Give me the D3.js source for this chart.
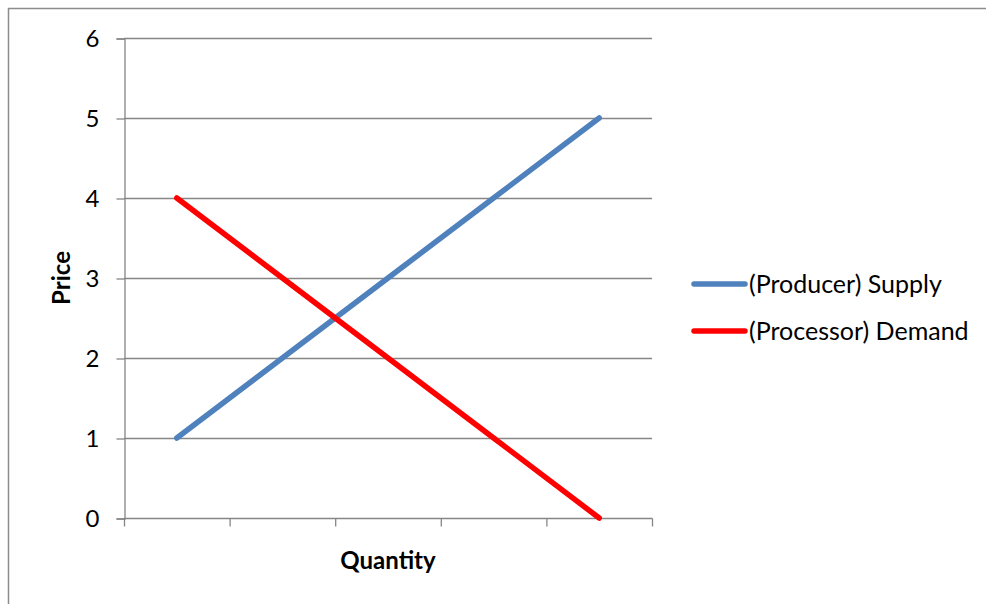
<!DOCTYPE html>
<html>
<head>
<meta charset="utf-8">
<script src="https://cdn.jsdelivr.net/npm/d3@7"></script>
<style>
  html, body { margin: 0; padding: 0; background: #fff; }
  svg { display: block; }
  text { font-family: Lato, "Open Sans", sans-serif; fill: #000; }
</style>
</head>
<body>
<svg id="chart" width="986" height="604"></svg>
<script>
// Quantity categories (unlabelled on the axis)
const categories = ["q1", "q2", "q3", "q4", "q5"];
const supplyValues = [1, 2, 3, 4, 5];
const demandValues = [4, 3, 2, 1, 0];
const priceTicks = [0, 1, 2, 3, 4, 5, 6];

const series = [
  { name: "(Producer) Supply", values: supplyValues, color: "#4F81BD" },
  { name: "(Processor) Demand", values: demandValues, color: "#FF0000" }
];

const svg = d3.select("#chart");
const plot = { left: 124, right: 652, top: 38, bottom: 518 };
const fontSize = "24px";

// outer chart frame
svg.append("rect")
  .attr("x", 8.5).attr("y", 8.5)
  .attr("width", 1000).attr("height", 700)
  .attr("fill", "#fff")
  .attr("stroke", "#8c8c8c").attr("stroke-width", 1.5);

const x = d3.scaleBand().domain(categories).range([plot.left, plot.right]).padding(0);
const y = d3.scaleLinear().domain([0, 6]).range([plot.bottom, plot.top]);

// horizontal gridlines
svg.append("g")
  .selectAll("line")
  .data(priceTicks.filter(d => d > 0))
  .join("line")
  .attr("x1", plot.left).attr("x2", plot.right)
  .attr("y1", d => y(d) + 0.5).attr("y2", d => y(d) + 0.5)
  .attr("stroke", "#868686").attr("stroke-width", 1.3);

// y axis
const yAxis = svg.append("g")
  .attr("transform", `translate(${plot.left + 0.5},0.5)`)
  .call(d3.axisLeft(y).tickValues(priceTicks).tickFormat(d3.format("d")).tickSize(8).tickPadding(17));
yAxis.select(".domain").attr("stroke", "#868686").attr("stroke-width", 1.3);
yAxis.selectAll(".tick line").attr("stroke", "#868686").attr("stroke-width", 1.3);
yAxis.selectAll(".tick text")
  .style("font-family", "Lato, sans-serif").style("font-size", fontSize).attr("fill", "#000");
yAxis.attr("font-family", null).attr("font-size", null);

// x axis with tick marks at category boundaries
const xAxisG = svg.append("g").attr("transform", `translate(0,${plot.bottom + 0.5})`);
xAxisG.append("line")
  .attr("x1", plot.left).attr("x2", plot.right + 0.5)
  .attr("stroke", "#868686").attr("stroke-width", 1.3);
const boundaries = categories.map(c => x(c)).concat([x.range()[1]]);
xAxisG.selectAll("line.tick")
  .data(boundaries)
  .join("line")
  .attr("class", "tick")
  .attr("x1", d => d + 0.5).attr("x2", d => d + 0.5)
  .attr("y1", 0).attr("y2", 8)
  .attr("stroke", "#868686").attr("stroke-width", 1.3);

// series lines
const line = d3.line()
  .x((d, i) => x(categories[i]) + x.bandwidth() / 2)
  .y(d => y(d));

svg.append("g")
  .selectAll("path")
  .data(series)
  .join("path")
  .attr("d", d => line(d.values))
  .attr("fill", "none")
  .attr("stroke", d => d.color)
  .attr("stroke-width", 5.5)
  .attr("stroke-linecap", "round");

// axis titles
svg.append("text")
  .attr("x", (plot.left + plot.right) / 2)
  .attr("y", 569)
  .attr("text-anchor", "middle")
  .style("font-size", fontSize).style("font-weight", "bold")
  .text("Quantity");

svg.append("text")
  .attr("transform", `translate(70,${(plot.top + plot.bottom) / 2}) rotate(-90)`)
  .attr("text-anchor", "middle")
  .style("font-size", fontSize).style("font-weight", "bold")
  .text("Price");

// legend
const legend = svg.append("g")
  .selectAll("g")
  .data(series)
  .join("g")
  .attr("transform", (d, i) => `translate(694,${284 + i * 47})`);
legend.append("line")
  .attr("x1", 0).attr("x2", 51)
  .attr("stroke", d => d.color).attr("stroke-width", 5.5)
  .attr("stroke-linecap", "round");
legend.append("text")
  .attr("x", 55).attr("y", 8.5)
  .style("font-size", "25px")
  .text(d => d.name);
</script>
</body>
</html>
